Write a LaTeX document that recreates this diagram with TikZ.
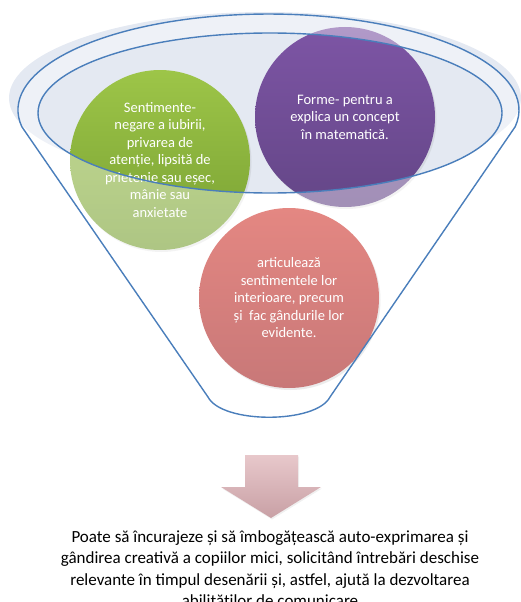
\documentclass[tikz,border=0pt]{standalone}
\usepackage{fontspec}
\setmainfont{Carlito}
\usetikzlibrary{shadows}

\definecolor{rimblue}{HTML}{4A7EBB}
\definecolor{haze}{HTML}{E4E9F2}
\definecolor{greentop}{HTML}{9DC548}
\definecolor{greenbot}{HTML}{78A032}
\definecolor{purpletop}{HTML}{7D55A5}
\definecolor{purplebot}{HTML}{644687}
\definecolor{redtop}{HTML}{E48782}
\definecolor{redbot}{HTML}{C87878}
\definecolor{arrowtop}{HTML}{E8C8CB}
\definecolor{arrowbot}{HTML}{C8A0A5}

\begin{document}
\begin{tikzpicture}[
  x=1pt,
  y=-1pt,
  rimline/.style={
    draw=rimblue,
    line width=1.4pt,
    line join=round
  },
  ball/.style={
    circle,
    minimum size=180pt,
    inner sep=0pt,
    align=center,
    text=white,
    font=\fontsize{14.5}{17.5}\selectfont,
    drop shadow={opacity=0.15,shadow xshift=1.5pt,shadow yshift=-2pt}
  },
  caption/.style={
    align=center,
    text=black,
    font=\fontsize{17}{21.5}\selectfont
  }
]

\useasboundingbox (0,0) rectangle (520,602);

\fill[haze] (265,98) ellipse [x radius=256, y radius=86];
\fill[haze] (270,113) ellipse [x radius=232, y radius=80];

\node[ball, top color=greentop, bottom color=greenbot] (greenball) at (160,160)
  {Sentimente-\\negare a iubirii,\\privarea de\\atenție, lipsită de\\prietenie sau eșec,\\mânie sau\\anxietate};
\node[ball, top color=purpletop, bottom color=purplebot] (purpleball) at (345,117)
  {Forme- pentru a\\explica un concept\\în matematică.};

\fill[white, fill opacity=0.4, even odd rule]
  (21.8,126.7) arc[start angle=170, end angle=370, x radius=250.5, y radius=96]
  -- (330,397) .. controls (316,424) and (222,424) .. (208,397) -- cycle
  (270,113) ellipse [x radius=232, y radius=80];

\node[ball, top color=redtop, bottom color=redbot] (redball) at (289,298)
  {articulează\\sentimentele lor\\interioare, precum\\și\ \ fac gândurile lor\\evidente.};

\draw[rimline]
  (21.8,126.7) arc[start angle=170, end angle=370, x radius=250.5, y radius=96]
  -- (330,397) .. controls (316,424) and (222,424) .. (208,397) -- cycle;
\draw[rimline] (270,113) ellipse [x radius=232, y radius=80];

\shade[top color=arrowtop, bottom color=arrowbot,
  drop shadow={opacity=0.12,shadow xshift=1pt,shadow yshift=-1.5pt}]
  (245,455) -- (298,455) -- (298,487) -- (321,487) -- (271,518)
  -- (221,487) -- (245,487) -- cycle;

\node[caption] (summary) at (270,570)
  {Poate să încurajeze și să îmbogățească auto-exprimarea și\\
   gândirea creativă a copiilor mici, solicitând întrebări deschise\\
   relevante în timpul desenării și, astfel, ajută la dezvoltarea\\
   abilităților de comunicare};

\end{tikzpicture}
\end{document}
